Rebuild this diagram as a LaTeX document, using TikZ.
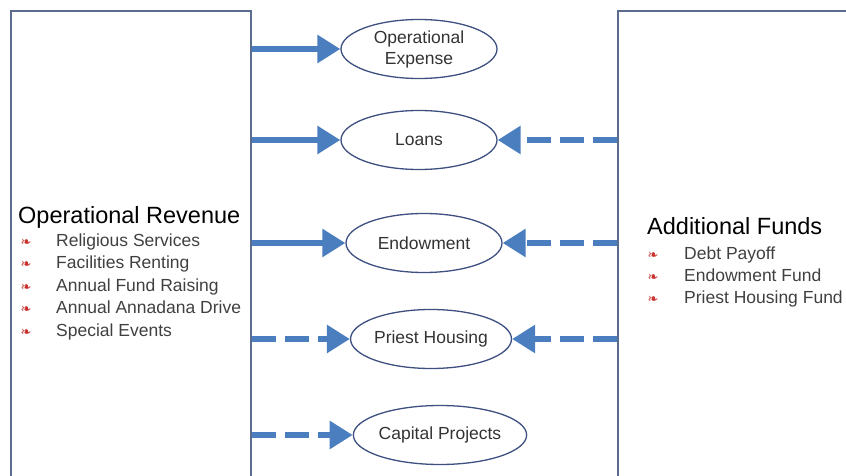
\documentclass[tikz,border=0pt]{standalone}
\usepackage{fontspec}
\setmainfont{Liberation Sans}
\newfontfamily\bulletfont{DejaVu Sans}
\usetikzlibrary{shapes.geometric,arrows.meta}

\definecolor{flowblue}{HTML}{4A7EBF}
\definecolor{boxedge}{HTML}{5B6C90}
\definecolor{ringedge}{HTML}{3E5080}
\definecolor{itemgray}{HTML}{404040}
\definecolor{bulletred}{HTML}{C8302B}

\tikzset{
    sidebox/.style = {draw = boxedge, line width = 2pt, rectangle, minimum width = 240pt, minimum height = 520pt, anchor = north west, inner sep = 0pt},
    fund/.style = {ellipse, draw = ringedge, line width = 1.3pt, minimum width = 156pt, minimum height = 59pt, inner sep = 0pt, align = center, text = black!80, font = \fontsize{17.5}{21}\selectfont},
    solidflow/.style = {draw = flowblue, line width = 6pt, -{Triangle[length = 23pt, width = 27pt]}},
    dashflow/.style = {solidflow, dash pattern = on 24pt off 9pt},
    heading/.style = {anchor = west, inner sep = 0pt, text height = 17pt, text depth = 5pt, font = \fontsize{23.5}{27}\selectfont},
    item/.style = {anchor = west, inner sep = 0pt, text height = 13pt, text depth = 4pt, text = itemgray, font = \fontsize{17.5}{20}\selectfont},
    flowerdot/.style = {anchor = center, inner sep = 0pt}
}
\newcommand{\flower}{\textcolor{bulletred}{\bulletfont\fontsize{13}{13}\selectfont ❧}}

\begin{document}
\begin{tikzpicture}[x = 1pt, y = -1pt]
        \useasboundingbox (0,0) rectangle (846,476);
        \clip (0,0) rectangle (846,476);

        % the two side boxes
        \node [sidebox] (revbox) at (10,10) {};
        \node [sidebox] (addbox) at (617,10) {};

        % left text
        \node [heading] (revtitle) at (18,217) {Operational Revenue};
        \node [flowerdot] (rb1) at (26,243) {\flower};
        \node [flowerdot] (rb2) at (26,265) {\flower};
        \node [flowerdot] (rb3) at (26,288) {\flower};
        \node [flowerdot] (rb4) at (26,310) {\flower};
        \node [flowerdot] (rb5) at (26,333) {\flower};
        \node [item] (rev1) at (56,242) {Religious Services};
        \node [item] (rev2) at (56,264) {Facilities Renting};
        \node [item] (rev3) at (56,287) {Annual Fund Raising};
        \node [item] (rev4) at (56,309) {Annual Annadana Drive};
        \node [item] (rev5) at (56,332) {Special Events};

        % right text
        \node [heading] (addtitle) at (647,228) {Additional Funds};
        \node [flowerdot] (ab1) at (653,256) {\flower};
        \node [flowerdot] (ab2) at (653,278) {\flower};
        \node [flowerdot] (ab3) at (653,300) {\flower};
        \node [item] (add1) at (684,255) {Debt Payoff};
        \node [item] (add2) at (684,277) {Endowment Fund};
        \node [item] (add3) at (684,299) {Priest Housing Fund};

        % the middle ellipses
        \node [fund] (opex) at (419,49) {Operational\\Expense};
        \node [fund] (loans) at (419,140) {Loans};
        \node [fund] (endow) at (424,243) {Endowment};
        \node [fund, minimum width = 153pt] (priest) at (431,339) {Priest Housing};
        \node [fund] (capital) at (440,435) {Capital Projects};

        % flows
        \draw [solidflow] (revbox.east |- opex.west) -- (opex.west);
        \draw [solidflow] (revbox.east |- loans.west) -- (loans.west);
        \draw [solidflow] (revbox.east |- endow.west) -- (endow.west);
        \draw [dashflow] (revbox.east |- priest.west) -- (priest.west);
        \draw [dashflow] (revbox.east |- capital.west) -- (capital.west);

        \draw [dashflow] (addbox.west |- loans.east) -- (loans.east);
        \draw [dashflow] (addbox.west |- endow.east) -- (endow.east);
        \draw [dashflow] (addbox.west |- priest.east) -- (priest.east);
    \end{tikzpicture}
\end{document}
